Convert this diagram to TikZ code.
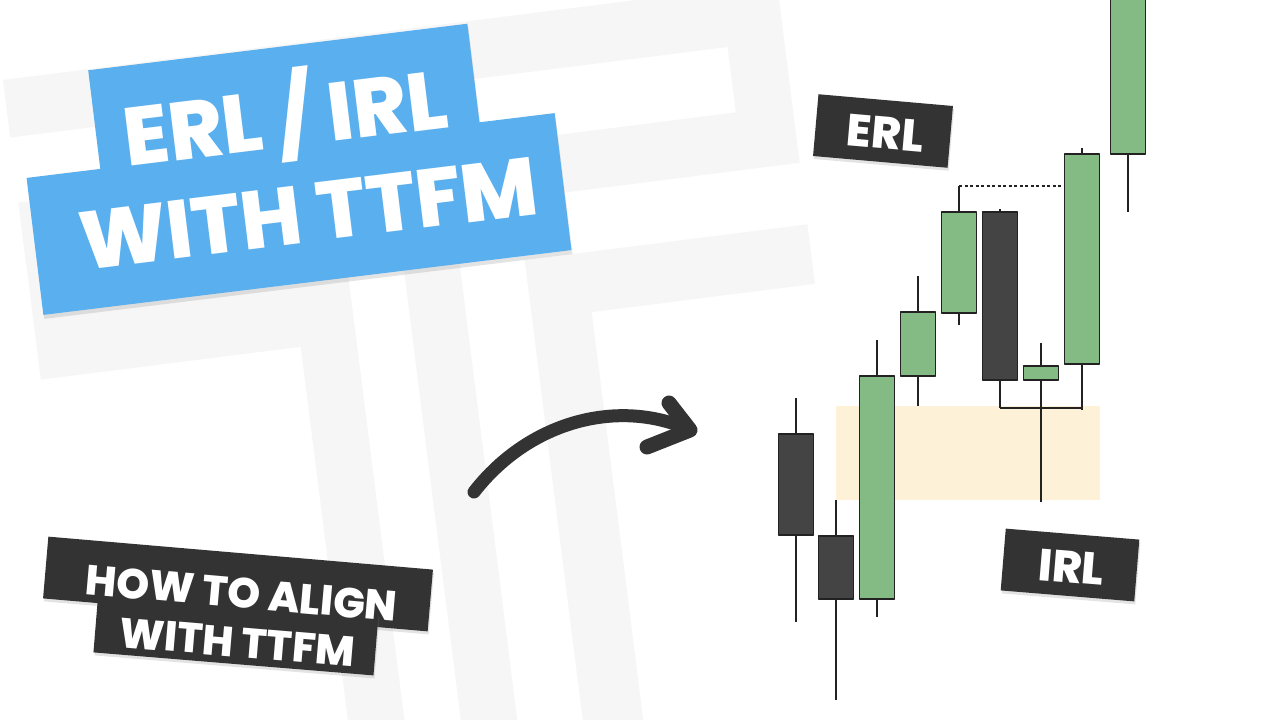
\documentclass[tikz,border=0pt]{standalone}
\usepackage{fontspec}
\setmainfont{Poppins}
\IfFontExistsTF{Poppins ExtraBold}
  {\newfontfamily\heavyfont{Poppins ExtraBold}}
  {\newfontfamily\heavyfont{Poppins}[UprightFont={* Bold}]}
\usetikzlibrary{shadows}
\definecolor{logogrey}{RGB}{246,246,246}
\definecolor{titleblue}{RGB}{90,175,238}
\definecolor{tagdark}{RGB}{51,51,51}
\definecolor{bullgreen}{RGB}{132,186,132}
\definecolor{beardark}{RGB}{68,68,68}
\definecolor{zonecream}{RGB}{253,242,216}
\definecolor{penline}{RGB}{34,34,34}
\begin{document}
\begin{tikzpicture}[x=1pt,y=-1pt,line join=round,
  bluebox/.style={fill=titleblue,draw=none,rotate=7,inner sep=0pt,
    drop shadow={shadow xshift=1pt,shadow yshift=-4pt,opacity=.22}},
  darktag/.style={fill=tagdark,draw=none,inner sep=0pt,minimum height=62pt,
    drop shadow={shadow xshift=1pt,shadow yshift=-3pt,opacity=.22}},
  bigtext/.style={text=white,inner sep=0pt,anchor=base,rotate=7,
    font=\heavyfont\fontsize{82}{82}\selectfont},
  tagtext/.style={text=white,inner sep=0pt,anchor=base,
    font=\heavyfont\fontsize{45}{45}\selectfont},
  howtext/.style={text=white,inner sep=0pt,anchor=base,
    font=\heavyfont\fontsize{42}{42}\selectfont},
  wick/.style={draw=penline,line width=1.4pt},
  body/.style={draw=penline,line width=1.5pt},
]
\useasboundingbox[fill=white] (0,0) rectangle (1280,720);
%% faint logo behind
\begin{scope}[shift={(3,80)},rotate=7.2,fill=logogrey]
  \fill (0,0) -- (780,0) -- (780,182) -- (0,182) -- (0,124) -- (723,124)
    -- (723,58) -- (0,58) -- cycle;
  \fill (0,124) -- (318,124) -- (318,800) -- (262,800) -- (262,302) -- (0,302) -- cycle;
  \fill (374,182) rectangle (430,800);
  \fill (495,244) -- (780,244) -- (780,304) -- (555,304) -- (555,800) -- (495,800) -- cycle;
\end{scope}
%% title
\node (node_bluetop) at (286,114) [bluebox,minimum width=382pt,minimum height=135pt] {};
\node (node_bluebot) at (299,214) [bluebox,minimum width=532pt,minimum height=138pt] {};
\node (node_title1) at (289,147) [bigtext] {ERL / IRL};
\node (node_title2) at (312,242) [bigtext] {WITH TTFM};
%% subtitle
\node (node_how1) at (238,584) [darktag,rotate=-4.9,minimum width=386pt] {};
\node (node_how2) at (236,633) [darktag,rotate=-4.7,minimum width=281pt] {};
\node (node_howtext1) at (240,608) [howtext,rotate=-5] {HOW TO ALIGN};
\node (node_howtext2) at (236,657) [howtext,rotate=-4.8] {WITH TTFM};
%% arrow
\coordinate (arrow_tail) at (474,492);
\coordinate (arrow_tip) at (690,430);
\draw [tagdark,line width=13pt,line cap=round] (arrow_tail) ..controls (530,420) and (620,398) .. (arrow_tip);
\draw [tagdark,line width=15pt,line cap=round] (669,403) -- (arrow_tip) -- (647,447);
%% chart
\fill [zonecream] (836,406) rectangle (1100,500);
\foreach \x/\wt/\bt/\bb/\wb/\c in {796/398/434/535/622/beardark, 836/500/536/599/700/beardark,
  877/340/376/599/617/bullgreen, 918/276/312/376/406/bullgreen, 959/186/212/313/325/bullgreen,
  1000/209/212/380/408/beardark, 1041/343/366/380/502/bullgreen, 1082/148/154/364/410/bullgreen,
  1128/-20/-10/154/212/bullgreen}
{
  \draw [wick] (\x,\wt) -- (\x,\wb);
  \draw [body,fill=\c] (\x-17.5,\bt) rectangle (\x+17.5,\bb);
}
\draw [wick] (1000,408) -- (1082,408);
\draw [wick,line width=1.2pt,dash pattern=on 3pt off 2.5pt] (959,186) -- (1065,186);
%% labels
\node (node_erl) at (883,131) [darktag,rotate=-5,minimum width=135pt] {};
\node (node_irl) at (1070,565) [darktag,rotate=-4.7,minimum width=134pt] {};
\node (node_erltext) at (884,149) [tagtext,rotate=-5] {ERL};
\node (node_irltext) at (1070,583) [tagtext,rotate=-4.7] {IRL};
%
\end{tikzpicture}
\end{document}
